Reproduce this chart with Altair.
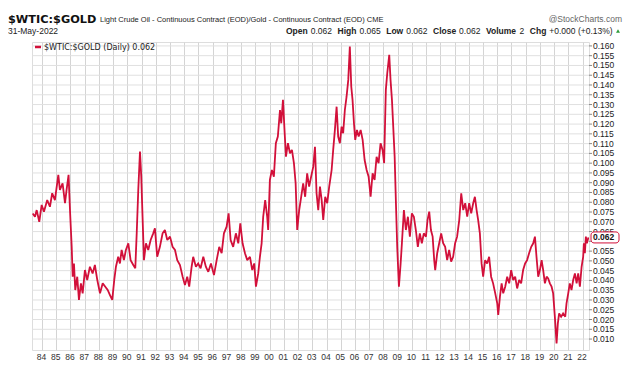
import altair as alt
import pandas as pd

# ---- data (decimal year, $WTIC/$GOLD ratio) ----
years = [
    1983.35, 1983.51, 1983.63, 1983.81, 1983.98, 1984.14, 1984.37, 1984.56, 1984.72, 1984.91,
    1985.15, 1985.26, 1985.45, 1985.62, 1985.73, 1985.87, 1985.97, 1986.09, 1986.16, 1986.25,
    1986.34, 1986.48, 1986.60, 1986.74, 1986.86, 1987.02, 1987.18, 1987.37, 1987.56, 1987.72,
    1987.89, 1988.08, 1988.27, 1988.45, 1988.62, 1988.78, 1988.94, 1989.08, 1989.20, 1989.36,
    1989.48, 1989.60, 1989.76, 1989.90, 1990.07, 1990.23, 1990.42, 1990.56, 1990.66, 1990.77,
    1990.89, 1990.98, 1991.07, 1991.17, 1991.31, 1991.47, 1991.64, 1991.82, 1991.94, 1992.10,
    1992.29, 1992.48, 1992.64, 1992.81, 1993.00, 1993.18, 1993.35, 1993.51, 1993.70, 1993.89,
    1994.05, 1994.21, 1994.35, 1994.52, 1994.63, 1994.82, 1994.98, 1995.15, 1995.34, 1995.52,
    1995.69, 1995.88, 1996.09, 1996.28, 1996.46, 1996.63, 1996.79, 1996.98, 1997.12, 1997.26,
    1997.44, 1997.63, 1997.80, 1997.94, 1998.10, 1998.27, 1998.43, 1998.62, 1998.78, 1998.92,
    1999.04, 1999.20, 1999.32, 1999.44, 1999.55, 1999.69, 1999.83, 1999.90, 2000.02, 2000.16,
    2000.30, 2000.44, 2000.58, 2000.73, 2000.82, 2000.94, 2001.06, 2001.15, 2001.29, 2001.43,
    2001.57, 2001.71, 2001.83, 2001.94, 2002.08, 2002.22, 2002.36, 2002.50, 2002.64, 2002.78,
    2002.92, 2003.07, 2003.19, 2003.30, 2003.42, 2003.54, 2003.66, 2003.77, 2003.91, 2004.05,
    2004.19, 2004.36, 2004.47, 2004.59, 2004.71, 2004.82, 2004.94, 2005.06, 2005.17, 2005.29,
    2005.41, 2005.53, 2005.64, 2005.74, 2005.83, 2005.93, 2006.02, 2006.14, 2006.26, 2006.40,
    2006.54, 2006.68, 2006.82, 2006.96, 2007.10, 2007.24, 2007.38, 2007.52, 2007.66, 2007.80,
    2007.94, 2008.05, 2008.17, 2008.27, 2008.41, 2008.50, 2008.60, 2008.69, 2008.79, 2008.88,
    2008.97, 2009.09, 2009.21, 2009.30, 2009.44, 2009.58, 2009.72, 2009.86, 2010.00, 2010.14,
    2010.28, 2010.42, 2010.56, 2010.70, 2010.84, 2010.99, 2011.10, 2011.22, 2011.34, 2011.46,
    2011.57, 2011.64, 2011.78, 2011.92, 2012.06, 2012.20, 2012.34, 2012.48, 2012.62, 2012.76,
    2012.90, 2013.04, 2013.18, 2013.33, 2013.47, 2013.61, 2013.75, 2013.89, 2014.03, 2014.17,
    2014.31, 2014.43, 2014.55, 2014.66, 2014.78, 2014.90, 2015.01, 2015.15, 2015.29, 2015.43,
    2015.57, 2015.71, 2015.86, 2016.00, 2016.07, 2016.19, 2016.31, 2016.42, 2016.56, 2016.70,
    2016.84, 2016.98, 2017.12, 2017.26, 2017.40, 2017.54, 2017.68, 2017.82, 2017.96, 2018.10,
    2018.24, 2018.39, 2018.53, 2018.65, 2018.76, 2018.88, 2019.00, 2019.12, 2019.23, 2019.35,
    2019.47, 2019.58, 2019.70, 2019.82, 2019.93, 2020.05, 2020.17, 2020.26, 2020.35, 2020.49,
    2020.63, 2020.78, 2020.87, 2020.99, 2021.10, 2021.22, 2021.34, 2021.46, 2021.58, 2021.69,
    2021.81, 2021.93, 2022.04, 2022.09, 2022.16, 2022.23, 2022.30, 2022.41,
]
ratio = [
    0.0743, 0.0726, 0.0760, 0.0700, 0.0786, 0.0752, 0.0811, 0.0777, 0.0846, 0.0811,
    0.0940, 0.0863, 0.0897, 0.0795, 0.0863, 0.0940, 0.0760, 0.0572, 0.0419, 0.0487,
    0.0351, 0.0419, 0.0300, 0.0385, 0.0334, 0.0453, 0.0402, 0.0470, 0.0436, 0.0479,
    0.0402, 0.0334, 0.0385, 0.0368, 0.0351, 0.0325, 0.0300, 0.0402, 0.0470, 0.0521,
    0.0487, 0.0556, 0.0504, 0.0556, 0.0590, 0.0504, 0.0479, 0.0462, 0.0641, 0.0863,
    0.1059, 0.0931, 0.0726, 0.0504, 0.0590, 0.0556, 0.0607, 0.0641, 0.0667, 0.0521,
    0.0572, 0.0641, 0.0658, 0.0607, 0.0624, 0.0572, 0.0556, 0.0504, 0.0479, 0.0419,
    0.0376, 0.0419, 0.0368, 0.0470, 0.0521, 0.0470, 0.0487, 0.0462, 0.0521, 0.0470,
    0.0444, 0.0487, 0.0427, 0.0504, 0.0572, 0.0539, 0.0641, 0.0675, 0.0743, 0.0607,
    0.0572, 0.0641, 0.0590, 0.0692, 0.0590, 0.0539, 0.0504, 0.0521, 0.0453, 0.0487,
    0.0368, 0.0436, 0.0521, 0.0590, 0.0726, 0.0811, 0.0726, 0.0658, 0.0914, 0.0965,
    0.0931, 0.1102, 0.1136, 0.1272, 0.1204, 0.1324, 0.1153, 0.1033, 0.1102, 0.1051,
    0.1068, 0.1000, 0.0897, 0.0658, 0.0760, 0.0828, 0.0897, 0.0828, 0.0948, 0.0880,
    0.0931, 0.0982, 0.1084, 0.0846, 0.0760, 0.0880, 0.0811, 0.0709, 0.0828, 0.0795,
    0.0880, 0.0965, 0.1068, 0.1170, 0.1289, 0.1136, 0.1102, 0.1187, 0.1153, 0.1272,
    0.1340, 0.1426, 0.1597, 0.1392, 0.1324, 0.1204, 0.1119, 0.1170, 0.1136, 0.1170,
    0.1119, 0.1016, 0.0965, 0.0931, 0.0828, 0.0948, 0.0914, 0.1033, 0.1000, 0.1102,
    0.1068, 0.1000, 0.1375, 0.1460, 0.1554, 0.1426, 0.1324, 0.1187, 0.1033, 0.0795,
    0.0572, 0.0368, 0.0487, 0.0590, 0.0760, 0.0658, 0.0726, 0.0624, 0.0743, 0.0726,
    0.0658, 0.0572, 0.0641, 0.0590, 0.0641, 0.0624, 0.0709, 0.0752, 0.0658, 0.0624,
    0.0504, 0.0453, 0.0539, 0.0590, 0.0641, 0.0590, 0.0572, 0.0504, 0.0556, 0.0496,
    0.0521, 0.0590, 0.0624, 0.0709, 0.0846, 0.0760, 0.0795, 0.0726, 0.0795, 0.0743,
    0.0795, 0.0828, 0.0760, 0.0709, 0.0641, 0.0487, 0.0419, 0.0504, 0.0487, 0.0521,
    0.0419, 0.0385, 0.0334, 0.0283, 0.0223, 0.0317, 0.0385, 0.0334, 0.0368, 0.0419,
    0.0385, 0.0453, 0.0402, 0.0419, 0.0359, 0.0402, 0.0385, 0.0453, 0.0487, 0.0504,
    0.0539, 0.0572, 0.0590, 0.0624, 0.0521, 0.0419, 0.0453, 0.0504, 0.0453, 0.0385,
    0.0419, 0.0410, 0.0385, 0.0368, 0.0334, 0.0214, 0.0078, 0.0180, 0.0231, 0.0214,
    0.0231, 0.0214, 0.0283, 0.0334, 0.0385, 0.0351, 0.0402, 0.0436, 0.0385, 0.0436,
    0.0368, 0.0470, 0.0521, 0.0590, 0.0539, 0.0624, 0.0590, 0.0620,
]
year_ticks = [1984, 1985, 1986, 1987, 1988, 1989, 1990, 1991, 1992, 1993, 1994, 1995, 1996,
              1997, 1998, 1999, 2000, 2001, 2002, 2003, 2004, 2005, 2006, 2007, 2008, 2009,
              2010, 2011, 2012, 2013, 2014, 2015, 2016, 2017, 2018, 2019, 2020, 2021, 2022]
ratio_ticks = [0.010, 0.015, 0.020, 0.025, 0.030, 0.035, 0.040, 0.045, 0.050, 0.055,
               0.060, 0.065, 0.070, 0.075, 0.080, 0.085, 0.090, 0.095, 0.100, 0.105,
               0.110, 0.115, 0.120, 0.125, 0.130, 0.135, 0.140, 0.145, 0.150, 0.155, 0.160]
ratio_tick_labels = ["0.010", "0.015", "0.020", "0.025", "0.030", "0.035", "0.040", "0.045",
                     "0.050", "0.055", "0.060", "0.065", "0.070", "0.075", "0.080", "0.085",
                     "0.090", "0.095", "0.100", "0.105", "0.110", "0.115", "0.120", "0.125",
                     "0.130", "0.135", "0.140", "0.145", "0.150", "0.155", "0.160"]
last_value = [0.062]
last_label = ["0.062"]

RED = "#d2103a"
FONT = "Liberation Sans"
W, H = 557, 308

df = pd.DataFrame({"t": years, "v": ratio})
ticks_df = pd.DataFrame({"v": ratio_ticks, "lab": ratio_tick_labels})
x_scale = alt.Scale(domain=[1983.3, 2022.45], nice=False, zero=False)
y_scale = alt.Scale(domain=[0.0044, 0.162], nice=False, zero=False)

# horizontal grid, y ticks and y labels drawn from the tick list through the y scale
hgrid = alt.Chart(ticks_df).mark_rule(color="#e0e0e0", strokeWidth=1).encode(
    x=alt.value(0), x2=alt.value(W), y=alt.Y("v:Q", scale=y_scale, axis=None))
yticks = alt.Chart(ticks_df).mark_rule(color="#888", strokeWidth=1).encode(
    x=alt.value(W), x2=alt.value(W + 3), y=alt.Y("v:Q", scale=y_scale, axis=None))
# the 0.060 label sits under the last-value box, as in the reference
ylabels = alt.Chart(ticks_df).transform_filter("datum.lab != '0.060'").mark_text(
    align="left", baseline="middle", fontSize=8.5, font=FONT, color="#222"
).encode(x=alt.value(W + 4), y=alt.Y("v:Q", scale=y_scale, axis=None), text="lab:N")

line = alt.Chart(df).mark_line(color=RED, strokeWidth=1.8, clip=True,
                               strokeJoin="miter", strokeMiterLimit=2).encode(
    x=alt.X("t:Q", scale=x_scale, title=None,
            axis=alt.Axis(values=year_ticks, format="d", labelExpr="substring(datum.label, 2)",
                          orient="bottom", grid=True, gridColor="#d4d4d4", gridWidth=1,
                          domain=False, ticks=False, labelFont=FONT, labelFontSize=8.5,
                          labelColor="#333", labelAlign="center", labelOffset=-1,
                          labelPadding=2, labelOverlap=False)),
    y=alt.Y("v:Q", scale=y_scale, axis=None),
)


def label(text, x, y, size=8.5, weight="normal", color="#222", align="left", font=FONT):
    return alt.Chart(alt.Data(values=[{}])).mark_text(
        align=align, baseline="alphabetic", fontSize=size, fontWeight=weight,
        color=color, font=font,
    ).encode(x=alt.value(x), y=alt.value(y), text=alt.value(text))


last_df = pd.DataFrame({"v": last_value, "txt": last_label})
box = alt.Chart(last_df).mark_rect(
    fill="white", stroke=RED, strokeWidth=1, cornerRadius=3, height=11, clip=False
).encode(x=alt.value(559), x2=alt.value(587), y=alt.Y("v:Q", scale=y_scale, axis=None))
box_text = alt.Chart(last_df).mark_text(
    align="left", baseline="middle", fontSize=8.5, fontWeight="bold", font=FONT, color="#111"
).encode(x=alt.value(561), y=alt.Y("v:Q", scale=y_scale, axis=None), text="txt:N")

legend_dash = alt.Chart(alt.Data(values=[{}])).mark_rule(color=RED, strokeWidth=2.5).encode(
    x=alt.value(3), x2=alt.value(9), y=alt.value(5))

triangle = alt.Chart(alt.Data(values=[{}])).mark_point(
    shape="triangle-up", filled=True, color="#2e9c3a", size=16, opacity=1
).encode(x=alt.value(586), y=alt.value(-11))

HY = -8  # baseline of the second header row
layers = [
    hgrid, line, yticks, ylabels, box, box_text, legend_dash, triangle,
    label("$WTIC:$GOLD (Daily) 0.062", 12, 8, size=8, font="DejaVu Sans"),
    label("$WTIC:$GOLD", -24, -19, size=11.3, weight="bold", color="#111", font="DejaVu Sans"),
    label("Light Crude Oil - Continuous Contract (EOD)/Gold - Continuous Contract (EOD) CME",
          68, -20, size=7.5),
    label("31-May-2022", -24, HY, size=8.5),
    label("@StockCharts.com", 590, -20, size=8.5, color="#666", align="right"),
    label("Open", 254, HY, weight="bold"),
    label("0.062", 278.7, HY),
    label("High", 305.5, HY, weight="bold"),
    label("0.065", 327.4, HY),
    label("Low", 354.2, HY, weight="bold"),
    label("0.062", 374.2, HY),
    label("Close", 401, HY, weight="bold"),
    label("0.062", 427.1, HY),
    label("Volume", 453.9, HY, weight="bold"),
    label("2", 487.6, HY),
    label("Chg", 497.8, HY, weight="bold"),
    label("+0.000 (+0.13%)", 517.3, HY),
]

chart = alt.layer(*layers).properties(
    width=W, height=H, autosize="none",
    padding={"left": 24, "top": 34, "right": 34, "bottom": 11},
).configure_view(stroke="#9a9a9a", strokeWidth=1).configure(background="white")

chart.save("out.html", embed_options={"renderer": "svg", "actions": False})
